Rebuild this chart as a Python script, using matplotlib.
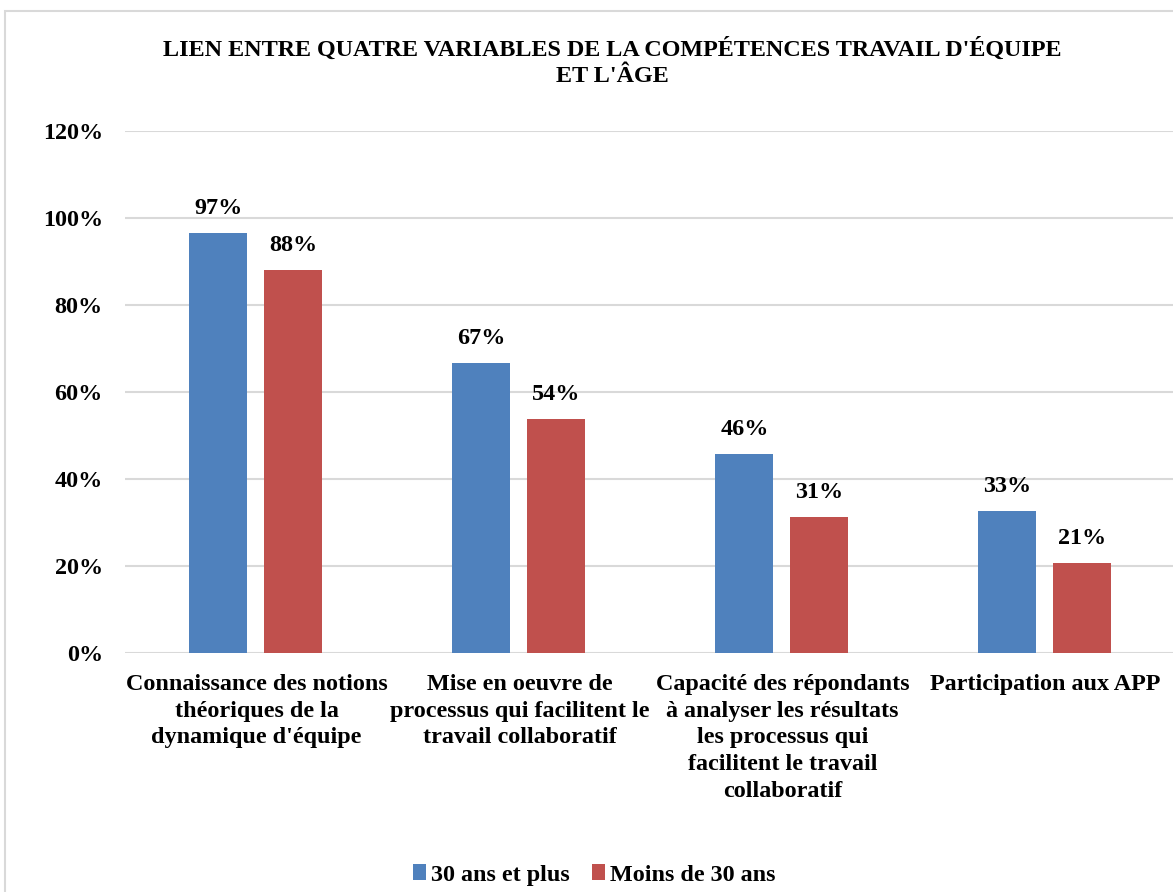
import numpy as np
import matplotlib.pyplot as plt
from matplotlib.patches import Rectangle

categories = [
    "Connaissance des notions\nthéoriques de la\ndynamique d'équipe",
    "Mise en oeuvre de\nprocessus qui facilitent le\ntravail collaboratif",
    "Capacité des répondants\nà analyser les résultats\nles processus qui\nfacilitent le travail\ncollaboratif",
    "Participation aux APP",
]
series_names = ["30 ans et plus", "Moins de 30 ans"]
plus_30 = [0.966, 0.667, 0.457, 0.326]
moins_30 = [0.88, 0.538, 0.313, 0.207]
y_ticks = [0, 0.2, 0.4, 0.6, 0.8, 1.0, 1.2]

BLUE = "#4F81BD"
RED = "#C0504D"
GRID = "#D9D9D9"
FS = 17.4

plt.rcParams['font.family'] = ['Liberation Serif', 'DejaVu Serif']
plt.rcParams['font.weight'] = 'bold'

fig = plt.figure(figsize=(11.73, 8.92), dpi=100)
W, H = 1173, 892

# cadre gris du graphique
fig.patches.append(Rectangle((5 / W, -0.1), 1.2, 1 - 11 / H + 0.1, transform=fig.transFigure,
                             fill=False, edgecolor=GRID, linewidth=1.5))

ax = fig.add_axes([125 / W, 1 - 653 / H, (1177 - 125) / W, (653 - 131) / H])

x = np.arange(len(categories))
bw = 0.22
b1 = ax.bar(x - 0.145, plus_30, bw, color=BLUE, label=series_names[0], zorder=3)
b2 = ax.bar(x + 0.14, moins_30, bw, color=RED, label=series_names[1], zorder=3)

for bars in (b1, b2):
    for b in bars:
        v = b.get_height()
        ax.annotate(f"{v * 100:.0f}%", (b.get_x() + b.get_width() / 2, v),
                    xytext=(0, 10), textcoords="offset points",
                    ha="center", va="bottom", fontsize=FS, fontweight="bold")

ax.set_xlim(-0.5, len(categories) - 0.5)
ax.set_ylim(0, 1.2)
ax.set_yticks(y_ticks)
ax.set_yticklabels([f"{t * 100:.0f}%" for t in y_ticks], fontsize=FS, fontweight="bold")
ax.set_xticks(x)
ax.set_xticklabels(categories, fontsize=FS, fontweight="bold", linespacing=1.36)
ax.tick_params(axis="both", length=0)
ax.tick_params(axis="y", pad=16)
ax.tick_params(axis="x", pad=15)
ax.yaxis.grid(True, color=GRID, linewidth=1.5, zorder=0)
ax.set_axisbelow(True)
for s in ax.spines.values():
    s.set_visible(False)

fig.text(612 / W, 1 - 62 / H, "LIEN ENTRE QUATRE VARIABLES DE LA COMPÉTENCES TRAVAIL D'ÉQUIPE\nET L'ÂGE",
         ha="center", va="center", fontsize=FS, fontweight="bold", linespacing=1.32)

fig.legend(loc="center", bbox_to_anchor=(594 / W, 1 - 875 / H), ncol=2, frameon=False,
           prop={"size": FS, "weight": "bold"}, handlelength=0.55, handleheight=0.6,
           handletextpad=0.2, columnspacing=0.9)

fig.savefig("out.png", dpi=100)
